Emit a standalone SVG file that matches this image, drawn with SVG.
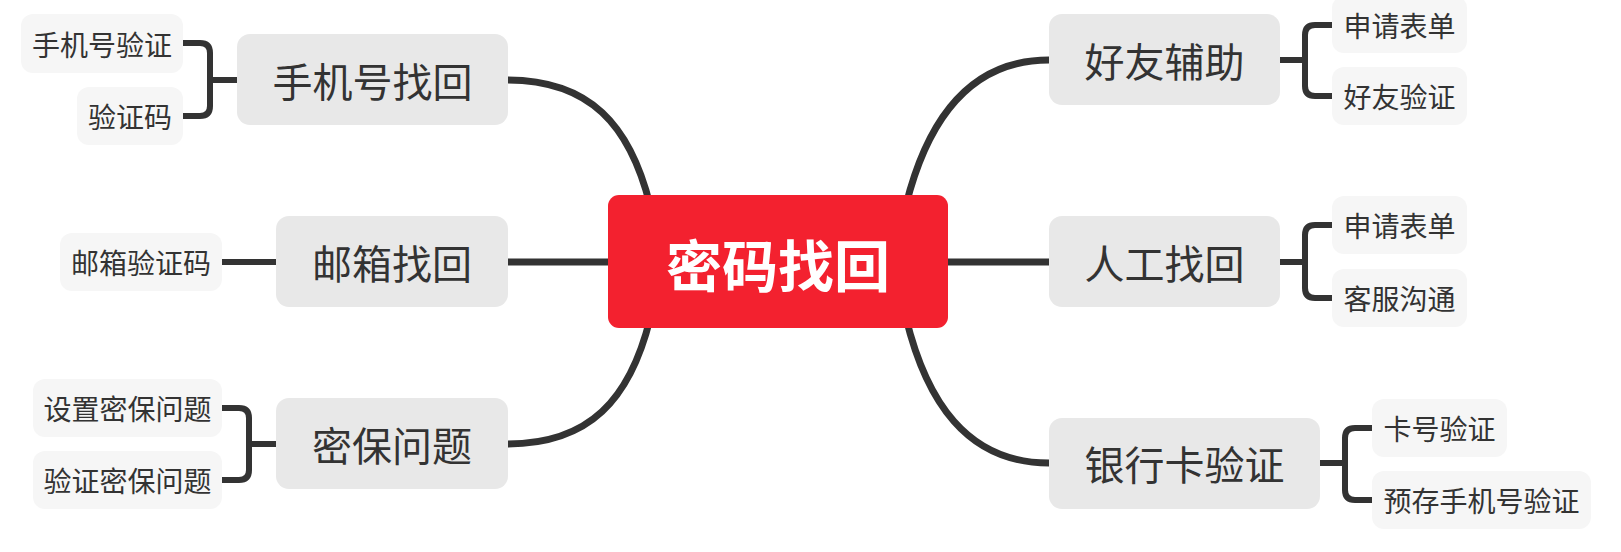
<svg xmlns="http://www.w3.org/2000/svg" width="1621" height="552" viewBox="0 0 1621 552">
<style>
.main rect{fill:#e8e8e8}
.leaf rect{fill:#f6f6f6}
.main text,.leaf text{fill:#333;font-family:"Noto Sans CJK SC","Noto Sans",sans-serif;text-anchor:middle;dominant-baseline:central}
.main text{font-size:40px}
.leaf text{font-size:28px}
.conn path{fill:none;stroke:#333;stroke-width:7;stroke-linecap:butt}
.conn path.br{stroke-width:6}
</style>
<rect width="1621" height="552" fill="#fff"/>
<g id="connectors" class="conn">
<path d="M507,80 C590,80 630,125 650,205"/>
<path d="M906,205 C926,125 966,60 1049,60"/>
<path d="M507,444 C590,444 630,399 650,319"/>
<path d="M906,318 C926,400 966,463 1049,463"/>
<path d="M507,262 H608"/>
<path d="M948,262 H1049"/>
<path class="br" d="M183,43 H200 Q210,43 210,53 V106 Q210,116 200,116 H183 M210,80 H237"/>
<path class="br" d="M222,262 H276"/>
<path class="br" d="M222,408 H239 Q249,408 249,418 V470 Q249,480 239,480 H222 M249,444 H276"/>
<path class="br" d="M1332,25 H1315 Q1305,25 1305,35 V86 Q1305,96 1315,96 H1332 M1305,60 H1280"/>
<path class="br" d="M1332,225 H1315 Q1305,225 1305,235 V288 Q1305,298 1315,298 H1332 M1305,262 H1280"/>
<path class="br" d="M1372,428 H1355 Q1345,428 1345,438 V490 Q1345,500 1355,500 H1372 M1345,463 H1320"/>
</g>
<g id="center">
<rect x="608" y="195" width="340" height="133" rx="11" fill="#f3212f"/>
<text x="778" y="262" font-family="'Noto Sans CJK SC','Noto Sans',sans-serif" font-size="56" font-weight="bold" fill="#fff" text-anchor="middle" dominant-baseline="central">密码找回</text>
</g>
<g id="phone" class="main"><rect x="237" y="34" width="271" height="91" rx="13"/><text x="372.5" y="80">手机号找回</text></g>
<g id="email" class="main"><rect x="276" y="216" width="232" height="91" rx="13"/><text x="392" y="262">邮箱找回</text></g>
<g id="question" class="main"><rect x="276" y="398" width="232" height="91" rx="13"/><text x="392" y="444">密保问题</text></g>
<g id="friend" class="main"><rect x="1049" y="14" width="231" height="91" rx="13"/><text x="1164.5" y="60">好友辅助</text></g>
<g id="manual" class="main"><rect x="1049" y="216" width="231" height="91" rx="13"/><text x="1164.5" y="262">人工找回</text></g>
<g id="bank" class="main"><rect x="1049" y="418" width="271" height="91" rx="13"/><text x="1184.5" y="463">银行卡验证</text></g>
<g id="phone-verify" class="leaf"><rect x="21" y="14" width="162" height="59" rx="12"/><text x="102" y="44">手机号验证</text></g>
<g id="code" class="leaf"><rect x="77" y="87" width="106" height="58" rx="12"/><text x="130" y="116">验证码</text></g>
<g id="email-code" class="leaf"><rect x="60" y="233" width="162" height="58" rx="12"/><text x="141" y="262">邮箱验证码</text></g>
<g id="set-question" class="leaf"><rect x="33" y="379" width="189" height="58" rx="12"/><text x="127.5" y="408">设置密保问题</text></g>
<g id="verify-question" class="leaf"><rect x="33" y="451" width="189" height="58" rx="12"/><text x="127.5" y="480">验证密保问题</text></g>
<g id="form1" class="leaf"><rect x="1332" y="-4" width="135" height="57" rx="12"/><text x="1399.5" y="25">申请表单</text></g>
<g id="friend-verify" class="leaf"><rect x="1332" y="67" width="135" height="58" rx="12"/><text x="1399.5" y="96">好友验证</text></g>
<g id="form2" class="leaf"><rect x="1332" y="196" width="135" height="58" rx="12"/><text x="1399.5" y="225">申请表单</text></g>
<g id="service" class="leaf"><rect x="1332" y="269" width="135" height="58" rx="12"/><text x="1399.5" y="298">客服沟通</text></g>
<g id="card-verify" class="leaf"><rect x="1372" y="399" width="135" height="58" rx="12"/><text x="1439.5" y="428">卡号验证</text></g>
<g id="reserved-phone" class="leaf"><rect x="1372" y="471" width="219" height="58" rx="12"/><text x="1481.5" y="500">预存手机号验证</text></g>
</svg>
